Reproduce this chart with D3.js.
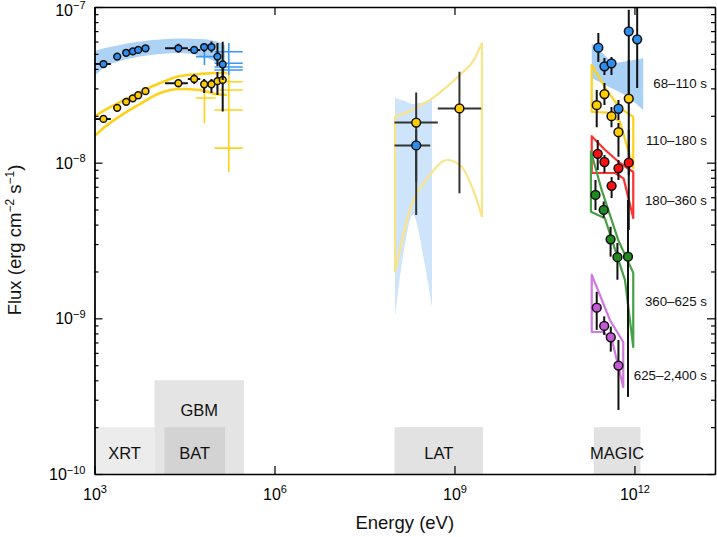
<!DOCTYPE html>
<html><head><meta charset="utf-8">
<script src="https://cdn.jsdelivr.net/npm/d3@7"></script>
<style>body{margin:0;background:#fff} svg{display:block;font-family:"Liberation Sans",Arial,Helvetica,sans-serif}</style>
</head><body><svg id="c" width="717" height="537"></svg>
<script>
// ---------------- DATA ----------------
const xTickVals = [1e3, 1e6, 1e9, 1e12];
const xTickExp = ["3", "6", "9", "12"];
const yTickVals = [1e-10, 1e-9, 1e-8, 1e-7];
const yTickExp = ["\u221210", "\u22129", "\u22128", "\u22127"];

const instNames = ["XRT", "GBM", "BAT", "LAT", "MAGIC"];
const instEmin = [3e2, 1e4, 1.46e4, 1e8, 2.1e11];
const instEmax = [1e4, 3.1e5, 1.5e5, 3e9, 1.26e12];
const instFtop = [2e-10, 4e-10, 2e-10, 2e-10, 2e-10];

const periods = ["68\u2013110 s", "110\u2013180 s", "180\u2013360 s", "360\u2013625 s", "625\u20132,400 s"];

// XRT + BAT spectral points (68-110 s blue, 110-180 s yellow)
const lowE = [1.41e3, 2.39e3, 3.37e3, 4.35e3, 5.35e3, 7.08e3, 2.5e4, 4.59e4, 6.73e4, 8.9e4, 1.12e5, 1.37e5];
const lowElo = [1e3, 2.07e3, 3.1e3, 4.1e3, 5.0e3, 6.5e3, 1.5e4, 3.6e4, 6.0e4, 8.0e4, 1.06e5, 1.3e5];
const lowEhi = [1.87e3, 2.75e3, 3.65e3, 4.6e3, 5.7e3, 7.7e3, 3.6e4, 5.8e4, 7.5e4, 1.0e5, 1.18e5, 1.45e5];
const lowBlueF = [4.3e-8, 4.8e-8, 5.08e-8, 5.19e-8, 5.3e-8, 5.43e-8, 5.43e-8, 5.3e-8, 5.53e-8, 5.53e-8, 4.8e-8, 4.28e-8];
const lowBlueLo = [4.17e-8, 4.66e-8, 4.93e-8, 5.03e-8, 5.14e-8, 5.27e-8, 5.1e-8, 5.0e-8, 5.14e-8, 5.1e-8, 4.18e-8, 3.4e-8];
const lowBlueHi = [4.43e-8, 4.94e-8, 5.23e-8, 5.35e-8, 5.46e-8, 5.59e-8, 5.8e-8, 5.6e-8, 5.87e-8, 6.0e-8, 5.87e-8, 5.98e-8];
const lowYelF = [1.91e-8, 2.25e-8, 2.46e-8, 2.59e-8, 2.71e-8, 2.88e-8, 3.24e-8, 3.45e-8, 3.19e-8, 3.19e-8, 3.34e-8, 3.4e-8];
const lowYelLo = [1.85e-8, 2.18e-8, 2.39e-8, 2.51e-8, 2.63e-8, 2.79e-8, 3.05e-8, 3.2e-8, 2.8e-8, 2.8e-8, 2.72e-8, 2.13e-8];
const lowYelHi = [1.97e-8, 2.32e-8, 2.53e-8, 2.67e-8, 2.79e-8, 2.97e-8, 3.45e-8, 3.7e-8, 3.45e-8, 3.45e-8, 3.82e-8, 4.24e-8];

// XRT model band (blue) and lines (yellow)
const xrtBandE = [1e3, 1.5e3, 2.66e3, 5.73e3, 1.24e4, 2.66e4, 5.73e4, 1.02e5, 1.5e5];
const xrtBlueUp = [5.22e-8, 5.45e-8, 5.7e-8, 6.0e-8, 6.18e-8, 6.28e-8, 6.23e-8, 6.05e-8, 5.7e-8];
const xrtBlueLow = [3.6e-8, 4.12e-8, 4.5e-8, 4.81e-8, 4.99e-8, 5.06e-8, 4.84e-8, 4.43e-8, 3.82e-8];
const xrtYelE = [1e3, 1.5e3, 2.66e3, 5.73e3, 1.24e4, 2.66e4, 5.73e4, 1.02e5, 1.61e5];
const xrtYelUp = [1.97e-8, 2.18e-8, 2.45e-8, 2.84e-8, 3.25e-8, 3.6e-8, 3.71e-8, 3.77e-8, 3.77e-8];
const xrtYelLow = [1.48e-8, 1.7e-8, 1.99e-8, 2.38e-8, 2.8e-8, 2.97e-8, 2.93e-8, 2.76e-8, 2.72e-8];

// GBM points (crosses, no markers)
const gbmBlueE = [6.8e4, 1.73e5, 1.73e5, 1.73e5, 1.73e5];
const gbmBlueElo = [4.9e4, 1e5, 1e5, 1e5, 1e5];
const gbmBlueEhi = [1.05e5, 2.96e5, 2.96e5, 2.96e5, 2.96e5];
const gbmBlueF = [4.8e-8, 5.16e-8, 4.35e-8, 4.12e-8, 3.94e-8];
const gbmBlueLo = [4.24e-8, 5.16e-8, 3.66e-8, 4.12e-8, 3.94e-8];
const gbmBlueHi = [5.3e-8, 5.16e-8, 5.87e-8, 4.12e-8, 3.94e-8];
const gbmYelE = [6.8e4, 1.73e5, 1.73e5, 1.73e5, 1.73e5];
const gbmYelElo = [4.9e4, 1e5, 1.2e5, 1e5, 1e5];
const gbmYelEhi = [1.05e5, 2.96e5, 2.96e5, 2.96e5, 2.96e5];
const gbmYelF = [2.6e-8, 3.31e-8, 2.93e-8, 2.18e-8, 1.24e-8];
const gbmYelLo = [1.79e-8, 3.31e-8, 2.93e-8, 2.18e-8, 8.7e-9];
const gbmYelHi = [3.4e-8, 3.31e-8, 2.93e-8, 2.18e-8, 3.82e-8];

// LAT
const latBlueE = [1.02e8, 1.44e8, 2.03e8, 3.1e8, 4.22e8];
const latBlueUp = [2.6e-8, 2.5e-8, 2.38e-8, 2.45e-8, 2.53e-8];
const latBlueLow = [1.02e-9, 2.75e-9, 4.61e-9, 2.37e-9, 1.18e-9];
const latYelE = [1.02e8, 1.81e8, 3.91e8, 7.5e8, 1.23e9, 2.2e9, 2.87e9];
const latYelUp = [1.97e-8, 2.15e-8, 2.53e-8, 3.08e-8, 3.66e-8, 4.7e-8, 5.9e-8];
const latYelLow = [1.98e-9, 4.97e-9, 8.33e-9, 1.04e-8, 9.66e-9, 6.2e-9, 4.48e-9];
const latPtE = [2.3e8, 2.3e8, 1.21e9];
const latPtElo = [1e8, 1e8, 5.27e8];
const latPtEhi = [5.27e8, 3.94e8, 2.79e9];
const latPtF = [1.81e-8, 1.29e-8, 2.23e-8];
const latPtLo = [7.55e-9, 4.61e-9, 6.35e-9];
const latPtHi = [2.82e-8, 1.62e-8, 3.84e-8];
const latPtSeries = [1, 0, 1];

// MAGIC points per period
const magicE = [
  [2.5e11, 3.16e11, 4.14e11, 5.41e11, 8.04e11, 1.11e12],
  [2.35e11, 3.16e11, 4.14e11, 5.41e11, 8.04e11],
  [2.44e11, 3.16e11, 4.16e11, 5.41e11, 8.04e11],
  [2.24e11, 3.07e11, 4.0e11, 5.2e11, 7.8e11],
  [2.35e11, 3.13e11, 4.03e11, 5.41e11]
];
const magicF = [
  [5.48e-8, 4.16e-8, 4.35e-8, 2.22e-8, 6.98e-8, 6.2e-8],
  [2.34e-8, 2.76e-8, 1.99e-8, 1.57e-8, 2.58e-8],
  [1.14e-8, 1.01e-8, 7.1e-9, 9.2e-9, 1.0e-8],
  [6.21e-9, 4.97e-9, 3.22e-9, 2.47e-9, 2.49e-9],
  [1.17e-9, 8.94e-10, 7.56e-10, 4.97e-10]
];
const magicLo = [
  [4.44e-8, 3.66e-8, 3.66e-8, 1.88e-8, 2.72e-8, 3.02e-8],
  [1.69e-8, 2.35e-8, 1.69e-8, 1.09e-8, 8.3e-9],
  [8.97e-9, 8.6e-9, 5.93e-9, 7.74e-9, 3.7e-9],
  [4.97e-9, 4.42e-9, 2.49e-9, 1.77e-9, 3.13e-10],
  [8.43e-10, 7.82e-10, 6.11e-10, 2.58e-10]
];
const magicHi = [
  [6.81e-8, 4.7e-8, 4.77e-8, 2.53e-8, 9.6e-8, 1.2e-7],
  [2.93e-8, 3.25e-8, 2.28e-8, 1.8e-8, 4.57e-8],
  [1.4e-8, 1.12e-8, 8.1e-9, 1.04e-8, 1.62e-8],
  [7.74e-9, 5.62e-9, 3.88e-9, 3.05e-9, 5.75e-9],
  [1.48e-9, 1.03e-9, 8.85e-10, 7.26e-10]
];
// MAGIC butterflies
const bfUpE = [
  [1.94e11, 4.43e11, 7.88e11, 1.4e12],
  [1.94e11, 3.44e11, 5.73e11, 9.55e11],
  [1.94e11, 3.22e11, 5.73e11, 9.55e11],
  [1.88e11, 2.84e11, 5.37e11, 9.55e11],
  [1.94e11, 2.46e11, 3.9e11, 6.5e11]
];
const bfUpF = [
  [5.84e-8, 4.35e-8, 4.5e-8, 4.68e-8],
  [4.24e-8, 2.93e-8, 2.24e-8, 1.97e-8],
  [1.48e-8, 1.21e-8, 9.95e-9, 8.71e-9],
  [1.18e-8, 6.68e-9, 3.18e-9, 1.96e-9],
  [1.9e-9, 1.52e-9, 9.76e-10, 7.05e-10]
];
const bfLowE = [
  [1.94e11, 4.43e11, 7.88e11, 1.4e12],
  [1.94e11, 3.44e11, 5.73e11, 9.55e11],
  [1.94e11, 4.8e11, 6.6e11, 9.55e11],
  [1.88e11, 3.22e11, 6.95e11, 9.55e11],
  [1.94e11, 2.99e11, 4.22e11, 6.5e11]
];
const bfLowF = [
  [3.5e-8, 2.97e-8, 2.65e-8, 2.18e-8],
  [2.12e-8, 2.1e-8, 1.83e-8, 9.24e-9],
  [8.58e-9, 8.58e-9, 7.9e-9, 4.41e-9],
  [4.84e-9, 4.39e-9, 1.76e-9, 6.54e-10],
  [8.17e-10, 8.17e-10, 7.26e-10, 3.62e-10]
];

// ---------------- STYLE ----------------
const markerCol = ["#2e8ef0", "#ffcc00", "#ff1010", "#1f8a1f", "#c458d8"];
const lineCol = ["#a9d1f5", "#ffd21a", "#ff3030", "#46a046", "#cf78e0"];
const instFill = ["#ececec", "#e4e4e4", "#d3d3d3", "#e2e2e2", "#e2e2e2"];

const PL = 94.5, PR = 715, PT = 7, PB = 474;
const x = d3.scaleLog().domain([1e3, 2.2e13]).range([PL, PR]);
const y = d3.scaleLog().domain([1e-10, 1e-7]).range([PB, PT]);
const svg = d3.select("#c");
svg.append("defs").append("clipPath").attr("id", "clip").append("rect")
  .attr("x", PL).attr("y", PT).attr("width", PR - PL).attr("height", PB - PT);
const plot = svg.append("g").attr("clip-path", "url(#clip)");

// instrument boxes
instNames.forEach((n, i) => {
  plot.append("rect").attr("x", x(instEmin[i])).attr("y", y(instFtop[i]))
    .attr("width", x(instEmax[i]) - x(instEmin[i])).attr("height", PB - y(instFtop[i]))
    .attr("fill", instFill[i]);
});
instNames.forEach((n, i) => {
  const lo = Math.max(instEmin[i], 1e3);
  const cx = (x(lo) + x(instEmax[i])) / 2;
  const cy = n === "GBM" ? y(instFtop[1]) + 36 : PB - 15;
  svg.append("text").attr("x", cx).attr("y", cy).attr("text-anchor", "middle")
    .attr("font-size", 16.5).attr("fill", "#111").text(n);
});

const line = d3.line().x(d => x(d[0])).y(d => y(d[1])).curve(d3.curveMonotoneX);
const area = d3.area().x(d => x(d[0])).y0(d => y(d[2])).y1(d => y(d[1])).curve(d3.curveMonotoneX);

// XRT blue band
plot.append("path").datum(xrtBandE.map((e, i) => [e, xrtBlueUp[i], xrtBlueLow[i]]))
  .attr("d", area).attr("fill", "#acd2f6");
// XRT yellow lines
[xrtYelUp, xrtYelLow].forEach(arr => {
  plot.append("path").datum(xrtYelE.map((e, i) => [e, arr[i]])).attr("d", line)
    .attr("fill", "none").attr("stroke", "#ffd21a").attr("stroke-width", 2.6);
});

// LAT blue band
plot.append("path").datum(latBlueE.map((e, i) => [e, latBlueUp[i], latBlueLow[i]]))
  .attr("d", area).attr("fill", "#cde4fa");
// LAT yellow butterfly (outline)
plot.append("path").datum(latYelE.map((e, i) => [e, latYelUp[i], latYelLow[i]]))
  .attr("d", d => area(d) + "Z")
  .attr("fill", "none").attr("stroke", "#fae488").attr("stroke-width", 2.2);

// GBM crosses
function crosses(E, Elo, Ehi, F, Lo, Hi, col) {
  E.forEach((e, i) => {
    plot.append("line").attr("x1", x(Elo[i])).attr("x2", x(Ehi[i])).attr("y1", y(F[i])).attr("y2", y(F[i]))
      .attr("stroke", col).attr("stroke-width", 1.6);
    if (Lo[i] !== Hi[i]) plot.append("line").attr("x1", x(e)).attr("x2", x(e)).attr("y1", y(Lo[i])).attr("y2", y(Hi[i]))
      .attr("stroke", col).attr("stroke-width", 1.6);
  });
}
crosses(gbmYelE, gbmYelElo, gbmYelEhi, gbmYelF, gbmYelLo, gbmYelHi, "#ffd21a");
crosses(gbmBlueE, gbmBlueElo, gbmBlueEhi, gbmBlueF, gbmBlueLo, gbmBlueHi, "#3a98f2");

// MAGIC butterflies
periods.forEach((p, k) => {
  const shape = bfUpE[k].map((e, i) => [e, bfUpF[k][i]]).concat(bfLowE[k].map((e, i) => [e, bfLowF[k][i]]).reverse());
  const path = plot.append("path").datum(shape)
    .attr("d", d3.line().x(d => x(d[0])).y(d => y(d[1])).curve(d3.curveLinearClosed));
  if (k === 0) path.attr("fill", "#a9d1f5").attr("stroke", "none");
  else path.attr("fill", "none").attr("stroke", lineCol[k]).attr("stroke-width", 2.2).attr("stroke-linejoin", "round");
});

// points with error bars
function points(E, Elo, Ehi, F, Lo, Hi, col, r, ebCol) {
  E.forEach((e, i) => {
    if (Elo) plot.append("line").attr("x1", x(Elo[i])).attr("x2", x(Ehi[i])).attr("y1", y(F[i])).attr("y2", y(F[i]))
      .attr("stroke", ebCol).attr("stroke-width", 2);
    plot.append("line").attr("x1", x(e)).attr("x2", x(e)).attr("y1", y(Lo[i])).attr("y2", y(Hi[i]))
      .attr("stroke", ebCol).attr("stroke-width", 2);
  });
  E.forEach((e, i) => {
    plot.append("circle").attr("cx", x(e)).attr("cy", y(F[i])).attr("r", r)
      .attr("fill", col).attr("stroke", "#111").attr("stroke-width", 1.5);
  });
}
points(lowE, lowElo, lowEhi, lowYelF, lowYelLo, lowYelHi, markerCol[1], 3.4, "#111");
points(lowE, lowElo, lowEhi, lowBlueF, lowBlueLo, lowBlueHi, markerCol[0], 3.4, "#111");

// LAT points
latPtE.forEach((e, i) => {
  points([e], [latPtElo[i]], [latPtEhi[i]], [latPtF[i]], [latPtLo[i]], [latPtHi[i]], markerCol[latPtSeries[i]], 4.4, "#333");
});

// MAGIC points
periods.forEach((p, k) => {
  points(magicE[k], null, null, magicF[k], magicLo[k], magicHi[k], markerCol[k], 4.4, "#111");
});

// period labels
const labelY = [83.3, 140, 200, 301.7, 375];
periods.forEach((p, k) => {
  svg.append("text").attr("x", 707).attr("y", labelY[k] + 4.6).attr("text-anchor", "end")
    .attr("font-size", 13.3).attr("fill", "#111").text(p);
});

// ---------------- AXES ----------------
const yMinor = y.ticks().filter(v => Math.abs(Math.log10(v) - Math.round(Math.log10(v))) > 1e-6);
function styleAxis(g) {
  g.select(".domain").attr("stroke", "#000").attr("stroke-width", 1.3);
  g.selectAll(".tick line").attr("stroke", "#000").attr("stroke-width", 1.2);
}
const gx = svg.append("g").attr("transform", `translate(0,${PB})`)
  .call(d3.axisBottom(x).tickValues(xTickVals).tickSize(-8).tickSizeOuter(0).tickFormat(() => ""));
styleAxis(gx);
gx.selectAll(".tick text").each(function (d, i) {
  const t = d3.select(this).attr("y", 26).attr("dy", null).attr("font-size", 16)
    .attr("fill", "#000").attr("font-family", "Liberation Sans, Arial, sans-serif");
  t.append("tspan").text("10");
  t.append("tspan").attr("dy", -7).attr("font-size", 11).text(xTickExp[i]);
});
const gxt = svg.append("g").attr("transform", `translate(0,${PT})`)
  .call(d3.axisTop(x).tickValues(xTickVals).tickSize(-8).tickSizeOuter(0).tickFormat(() => ""));
styleAxis(gxt);

const gy = svg.append("g").attr("transform", `translate(${PL},0)`)
  .call(d3.axisLeft(y).tickValues(yTickVals).tickSize(-8).tickSizeOuter(0).tickFormat(() => ""));
styleAxis(gy);
gy.selectAll(".tick text").each(function (d, i) {
  const t = d3.select(this).attr("x", -9).attr("dy", null).attr("y", i === 3 ? 8 : 5.5).attr("font-size", 16)
    .attr("fill", "#000").attr("text-anchor", "end").attr("font-family", "Liberation Sans, Arial, sans-serif");
  t.append("tspan").text("10");
  t.append("tspan").attr("dy", -6.5).attr("font-size", 11).text(yTickExp[i]);
});
const gym = svg.append("g").attr("transform", `translate(${PL},0)`)
  .call(d3.axisLeft(y).tickValues(yMinor).tickSize(-4).tickSizeOuter(0).tickFormat(() => ""));
styleAxis(gym);
const gyr = svg.append("g").attr("transform", `translate(${PR},0)`)
  .call(d3.axisRight(y).tickValues(yTickVals).tickSize(-8).tickSizeOuter(0).tickFormat(() => ""));
styleAxis(gyr);
const gyrm = svg.append("g").attr("transform", `translate(${PR},0)`)
  .call(d3.axisRight(y).tickValues(yMinor).tickSize(-4).tickSizeOuter(0).tickFormat(() => ""));
styleAxis(gyrm);

// axis titles
svg.append("text").attr("x", (PL + PR) / 2).attr("y", 528.5).attr("text-anchor", "middle")
  .attr("font-size", 18.5).attr("fill", "#111").text("Energy (eV)");
const yt = svg.append("text").attr("transform", "translate(21,240) rotate(-90)").attr("text-anchor", "middle")
  .attr("font-size", 18.5).attr("fill", "#111");
yt.append("tspan").text("Flux (erg cm");
yt.append("tspan").attr("dy", -7).attr("font-size", 12).text("\u22122");
yt.append("tspan").attr("dy", 7).text(" s");
yt.append("tspan").attr("dy", -7).attr("font-size", 12).text("\u22121");
yt.append("tspan").attr("dy", 7).text(")");
</script></body></html>
